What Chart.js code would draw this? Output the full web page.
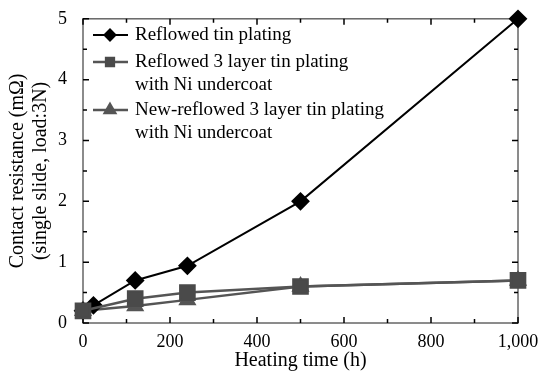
<!DOCTYPE html>
<html>
<head>
<meta charset="utf-8">
<script src="https://cdn.jsdelivr.net/npm/chart.js@4"></script>
<style>
  html, body { margin: 0; padding: 0; background: #fff; }
  #wrap { width: 541px; height: 372px; }
</style>
</head>
<body>
<div id="wrap"><canvas id="myChart" width="541" height="372"></canvas></div>
<script>
// valores
const tinX = [0, 24, 120, 240, 500, 1000];
const tinY = [0.2, 0.29, 0.7, 0.94, 2.0, 5.0];
const layerX = [0, 120, 240, 500, 1000];
const layerY = [0.2, 0.4, 0.5, 0.6, 0.7];
const newX = [0, 120, 240, 500, 1000];
const newY = [0.2, 0.28, 0.38, 0.6, 0.7];

const nombres = [
  ['Reflowed tin plating'],
  ['Reflowed 3 layer tin plating', 'with Ni undercoat'],
  ['New-reflowed 3 layer tin plating', 'with Ni undercoat']
];
const xTicks = [0, 200, 400, 600, 800, 1000];
const yTicks = [0, 1, 2, 3, 4, 5];

const fuente = '"Liberation Serif", "DejaVu Serif", serif';

function puntos(xs, ys) {
  return xs.map((x, i) => ({ x: x, y: ys[i] }));
}

// marcas hacia dentro en los cuatro lados + leyenda dentro
const marcas = {
  id: 'marcas',
  beforeDatasetsDraw(chart) {
    const ctx = chart.ctx;
    const a = chart.chartArea;
    const sx = chart.scales.x, sy = chart.scales.y;
    ctx.save();
    ctx.strokeStyle = '#666';
    ctx.lineWidth = 1.5;
    ctx.strokeRect(a.left, a.top, a.right - a.left, a.bottom - a.top);
    ctx.strokeStyle = '#000';
    ctx.lineWidth = 1.5;
    for (let v = 0; v <= 1000; v += 100) {
      const px = sx.getPixelForValue(v);
      const l = v % 200 == 0 ? 6 : 4;
      ctx.beginPath();
      ctx.moveTo(px, a.bottom); ctx.lineTo(px, a.bottom - l);
      ctx.moveTo(px, a.top); ctx.lineTo(px, a.top + l);
      ctx.stroke();
    }
    for (let v = 0; v <= 5; v += 0.5) {
      const py = sy.getPixelForValue(v);
      const l = v % 1 == 0 ? 6 : 4;
      ctx.beginPath();
      ctx.moveTo(a.left, py); ctx.lineTo(a.left + l, py);
      ctx.moveTo(a.right, py); ctx.lineTo(a.right - l, py);
      ctx.stroke();
    }
    ctx.restore();
  },
  afterDraw(chart) {
    const ctx = chart.ctx;
    ctx.save();
    // leyenda
    const filas = [35, 62, 110];
    const tam = [5.5, 5.5, 6];
    ctx.font = '19px ' + fuente;
    ctx.textBaseline = 'middle';
    chart.data.datasets.forEach((ds, i) => {
      const y = filas[i];
      ctx.strokeStyle = ds.borderColor;
      ctx.lineWidth = ds.borderWidth;
      ctx.beginPath();
      ctx.moveTo(93, y); ctx.lineTo(128, y);
      ctx.stroke();
      ctx.fillStyle = ds.pointBackgroundColor;
      ctx.strokeStyle = ds.pointBorderColor;
      Chart.helpers.drawPoint(ctx, {
        pointStyle: ds.pointStyle, radius: tam[i], borderWidth: 1
      }, 110, y);
      ctx.fillStyle = '#000';
      nombres[i].forEach((t, j) => ctx.fillText(t, 135, y + j * 23));
    });
    ctx.restore();
  }
};

const data = {
  datasets: [
    {
      label: nombres[0].join(' '),
      data: puntos(tinX, tinY),
      borderColor: '#000',
      backgroundColor: '#000',
      pointBackgroundColor: '#000',
      pointBorderColor: '#000',
      borderWidth: 2,
      pointStyle: 'rectRot',
      pointRadius: 8,
      clip: false,
      order: 2
    },
    {
      label: nombres[1].join(' '),
      data: puntos(layerX, layerY),
      borderColor: '#555',
      backgroundColor: '#4a4a4a',
      pointBackgroundColor: '#4a4a4a',
      pointBorderColor: '#4a4a4a',
      borderWidth: 2.5,
      pointStyle: 'rect',
      pointRadius: 10,
      clip: false,
      order: 1
    },
    {
      label: nombres[2].join(' '),
      data: puntos(newX, newY),
      borderColor: '#555',
      backgroundColor: '#555',
      pointBackgroundColor: '#555',
      pointBorderColor: '#555',
      borderWidth: 2.5,
      pointStyle: 'triangle',
      pointRadius: 8,
      clip: false,
      order: 3
    }
  ]
};

const config = {
  type: 'line',
  data: data,
  options: {
    responsive: false,
    animation: false,
    layout: { padding: { top: 18, right: 23, left: 0, bottom: 0 } },
    plugins: {
      legend: { display: false },
      tooltip: { enabled: false }
    },
    scales: {
      x: {
        type: 'linear',
        min: 0, max: 1000,
        afterFit: s => { s.height = 49; },
        afterBuildTicks: s => { s.ticks = xTicks.map(v => ({ value: v })); },
        grid: { display: false },
        border: { display: false },
        ticks: {
          color: '#000',
          padding: 0,
          maxRotation: 0,
          font: { family: fuente, size: 18 },
          callback: v => v.toLocaleString('en-US')
        },
        title: {
          display: true,
          text: 'Heating time (h)',
          color: '#000',
          padding: { top: 0, bottom: 0 },
          font: { family: fuente, size: 20, lineHeight: 1.1 }
        }
      },
      y: {
        min: 0, max: 5,
        afterFit: s => { s.width = 83; },
        afterBuildTicks: s => { s.ticks = yTicks.map(v => ({ value: v })); },
        grid: { display: false },
        border: { display: false },
        ticks: {
          color: '#000',
          padding: 8,
          font: { family: fuente, size: 18 }
        },
        title: {
          display: true,
          text: ['Contact resistance (m\u03A9)', '(single slide, load:3N)'],
          color: '#000',
          padding: { top: 6, bottom: 2 },
          font: { family: fuente, size: 20, lineHeight: 1.15 }
        }
      }
    }
  },
  plugins: [marcas]
};

const myChart = new Chart(document.getElementById('myChart'), config);
</script>
</body>
</html>
